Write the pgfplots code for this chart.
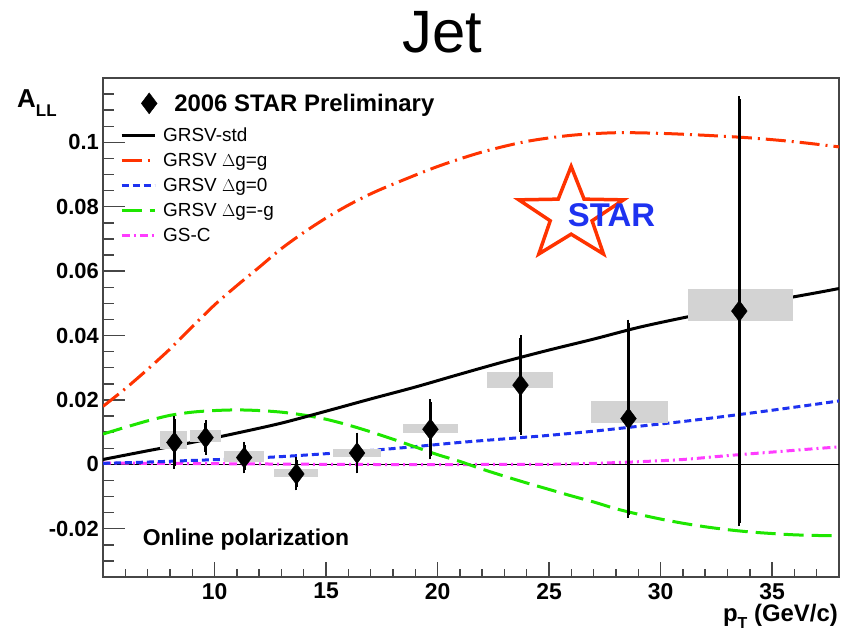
\documentclass[border=0pt]{standalone}
\usepackage{fontspec}
\setmainfont{Liberation Sans}
\usepackage{pgfplots}
\usepackage{pgfplotstable}
\pgfplotsset{compat=1.18}
\usetikzlibrary{shapes.geometric}
\definecolor{rootred}{RGB}{255,51,0}
\definecolor{rootblue}{RGB}{30,50,240}
\definecolor{rootgreen}{RGB}{30,230,0}
\definecolor{rootmag}{RGB}{255,60,255}
\definecolor{sysgray}{RGB}{211,211,211}
\definecolor{framec}{RGB}{70,70,70}

\pgfplotstableread{
x y
5 0.0015
7 0.0042
9 0.0068
11 0.0097
13 0.0128
15 0.0165
17 0.0203
19 0.0240
21 0.0280
23 0.0319
25 0.0355
27 0.0389
29 0.0425
31 0.0455
33 0.0482
35 0.0508
37 0.0533
38 0.0546
}\stdtab

\pgfplotstableread{
x y
5 0.0180
6 0.0235
7 0.0295
8 0.0358
9 0.0427
10 0.0495
11 0.0555
12 0.0612
13 0.0670
14 0.0720
15 0.0765
16 0.0805
17 0.0840
18 0.0870
20 0.0925
22 0.0970
24 0.1003
26 0.1022
28 0.1030
30 0.1028
32 0.1022
34 0.1014
36 0.1002
38 0.0986
}\gtab

\pgfplotstableread{
x y
5 0.0003
7 0.0007
9 0.0012
11 0.0017
13 0.0024
15 0.0033
17 0.0043
19 0.0055
21 0.0068
23 0.0079
25 0.0090
27 0.0103
29 0.0118
31 0.0133
33 0.0150
35 0.0168
37 0.0187
38 0.0197
}\zerotab

\pgfplotstableread{
x y
5 0.0094
6 0.0115
7 0.0135
8 0.0152
9 0.0162
10 0.0167
11 0.0169
12 0.0167
13 0.0162
14 0.0153
15 0.0140
16 0.0122
17 0.0101
18 0.0078
19 0.0054
20 0.0030
21 0.0009
22 -0.0015
23 -0.0037
24 -0.0058
25 -0.0078
26 -0.0098
27 -0.0117
28 -0.0138
29 -0.0155
30 -0.0170
31 -0.0183
32 -0.0194
33 -0.0203
34 -0.0210
35 -0.0215
36 -0.0219
37 -0.0221
38 -0.0222
}\mgtab

\pgfplotstableread{
x y
5 0.0004
10 0.0002
15 0.0000
20 -0.0001
23 0.0000
25 0.0000
27 0.0003
29 0.0008
31 0.0015
33 0.0027
35 0.0038
37 0.0049
38 0.0054
}\gsctab

\pgfplotstableread{
x y err
8.20 0.0068 0.0072
9.60 0.0083 0.0044
11.33 0.0021 0.0040
13.67 -0.0030 0.0042
16.39 0.0035 0.0054
19.68 0.0109 0.0084
23.72 0.0246 0.0146
28.56 0.0142 0.0298
33.53 0.0476 0.0659
}\datatab

\begin{document}
\begin{tikzpicture}[x=1bp,y=1bp]
\useasboundingbox (0,0) rectangle (852,634);
\node[anchor=base, inner sep=0pt, font=\fontsize{60}{60}\selectfont] at (442,581) {Jet};
\node[anchor=base west, inner sep=0pt, font=\bfseries\fontsize{26}{26}\selectfont] at (17,526) {A\raisebox{-9bp}{\fontsize{17}{17}\selectfont LL}};
\node[anchor=base east, inner sep=0pt, font=\bfseries\fontsize{24}{24}\selectfont] at (838,12) {p\raisebox{-7bp}{\fontsize{16}{16}\selectfont T} (GeV/c)};

\begin{axis}[
  at={(103bp,57bp)}, anchor=south west,
  scale only axis, width=736bp, height=499bp,
  xmin=5, xmax=38, ymin=-0.035, ymax=0.12,
  axis line style={framec, line width=1.8bp},
  tick pos=left, tick align=inside,
  major tick length=22bp, minor tick length=11bp,
  tick style={framec, line width=1.4bp},
  xtick={10,15,20,25,30,35},
  xticklabels={10,15,20,25,30,35},
  minor xtick={6,...,37},
  xtick style={draw=none},
  ytick={-0.02,0,0.02,0.04,0.06,0.08,0.1},
  yticklabels={-0.02,0,0.02,0.04,0.06,0.08,0.1},
  minor ytick={-0.03,-0.025,-0.015,-0.01,-0.005,0.005,0.01,0.015,0.025,0.03,0.035,0.045,0.05,0.055,0.065,0.07,0.075,0.085,0.09,0.095,0.105,0.11,0.115},
  xticklabel style={font=\bfseries\fontsize{23}{23}\selectfont, inner sep=0pt, yshift=-6bp},
  yticklabel style={font=\bfseries\fontsize{22}{22}\selectfont, inner sep=0pt, xshift=-4bp},
  legend style={at={(0,1)}, anchor=north west, xshift=17bp, yshift=-45.8bp,
    draw=none, fill=none, inner sep=0pt, column sep=7bp, row sep=0pt,
    nodes={inner sep=0pt, text height=18bp, text depth=7bp}, cells={anchor=base west},
    font=\fontsize{19}{19}\selectfont},
  legend image code/.code={\draw[#1] (0bp,6.5bp) -- (33bp,6.5bp);},
  clip=true,
]
\addlegendimage{black, line width=3bp}
\addlegendentry{GRSV-std}
\addlegendimage{rootred, line width=3bp, dash pattern=on 20bp off 6bp on 2bp off 6bp}
\addlegendentry{GRSV $\Delta$g=g}
\addlegendimage{rootblue, line width=3bp, dash pattern=on 7bp off 4bp}
\addlegendentry{GRSV $\Delta$g=0}
\addlegendimage{rootgreen, line width=3bp, dash pattern=on 20bp off 8bp}
\addlegendentry{GRSV $\Delta$g=-g}
\addlegendimage{rootmag, line width=3bp, dash pattern=on 8bp off 4bp on 2bp off 4bp}
\addlegendentry{GS-C}

% zero line
\addplot[forget plot, black, line width=1.2bp] coordinates {(5,0) (38,0)};

% theory curves
\addplot[forget plot, rootmag, line width=3bp, dash pattern=on 8bp off 4bp on 2bp off 4bp, smooth] table[x=x,y=y] {\gsctab};
\addplot[forget plot, rootblue, line width=3bp, dash pattern=on 7bp off 4bp, smooth] table[x=x,y=y] {\zerotab};
\addplot[forget plot, rootgreen, line width=3bp, dash pattern=on 20bp off 8bp, smooth] table[x=x,y=y] {\mgtab};
\addplot[forget plot, rootred, line width=3bp, dash pattern=on 20bp off 6bp on 2bp off 6bp, smooth] table[x=x,y=y] {\gtab};
\addplot[forget plot, black, line width=3bp, smooth] table[x=x,y=y] {\stdtab};

% systematic boxes
\addplot[forget plot, fill=sysgray, draw=none] coordinates {(7.55,0.0047) (8.75,0.0047) (8.75,0.0104) (7.55,0.0104)} -- cycle;
\addplot[forget plot, fill=sysgray, draw=none] coordinates {(8.88,0.0070) (10.29,0.0070) (10.29,0.0107) (8.88,0.0107)} -- cycle;
\addplot[forget plot, fill=sysgray, draw=none] coordinates {(10.43,0.0006) (12.20,0.0006) (12.20,0.0042) (10.43,0.0042)} -- cycle;
\addplot[forget plot, fill=sysgray, draw=none] coordinates {(12.68,-0.0039) (14.63,-0.0039) (14.63,-0.0015) (12.68,-0.0015)} -- cycle;
\addplot[forget plot, fill=sysgray, draw=none] coordinates {(15.30,0.0022) (17.47,0.0022) (17.47,0.0047) (15.30,0.0047)} -- cycle;
\addplot[forget plot, fill=sysgray, draw=none] coordinates {(18.44,0.0096) (20.91,0.0096) (20.91,0.0125) (18.44,0.0125)} -- cycle;
\addplot[forget plot, fill=sysgray, draw=none] coordinates {(22.23,0.0236) (25.17,0.0236) (25.17,0.0288) (22.23,0.0288)} -- cycle;
\addplot[forget plot, fill=sysgray, draw=none] coordinates {(26.87,0.0127) (30.34,0.0127) (30.34,0.0197) (26.87,0.0197)} -- cycle;
\addplot[forget plot, fill=sysgray, draw=none] coordinates {(31.23,0.0445) (35.92,0.0445) (35.92,0.0546) (31.23,0.0546)} -- cycle;

% data
\addplot[forget plot, black, only marks, mark=diamond*, mark size=10.5bp,
  error bars/.cd, y dir=both, y explicit,
  error bar style={line width=2.8bp, black},
  error mark options={line width=2bp, mark size=3bp, black}]
  table[x=x, y=y, y error=err] {\datatab};

\node[anchor=base west, inner sep=0pt, font=\bfseries\fontsize{23}{23}\selectfont] at (axis cs:6.78,-0.0251) {Online polarization};

% STAR logo
\node[star, star points=5, star point ratio=2.5, draw=rootred, line width=3.5bp, minimum size=110bp, inner sep=0pt, yscale=0.88, transform shape] at (axis cs:25.99,0.0775) {};
\node[text=rootblue, inner sep=0pt, font=\bfseries\fontsize{33}{33}\selectfont] at (axis cs:27.8,0.0774) {STAR};
\end{axis}

\begin{axis}[
  at={(103bp,57bp)}, anchor=south west,
  scale only axis, width=736bp, height=499bp,
  xmin=5, xmax=38, ymin=-0.035, ymax=0.12,
  axis line style={draw=none},
  tick pos=left, tick align=inside,
  major tick length=15bp, minor tick length=7.5bp,
  tick style={framec, line width=1.4bp},
  xtick={10,15,20,25,30,35}, xticklabels={},
  minor xtick={6,...,37},
  ytick=\empty,
  legend style={at={(0,1)}, anchor=north west, xshift=17bp, yshift=-14.5bp,
    draw=none, fill=none, inner sep=0pt, column sep=17bp,
    nodes={inner sep=0pt, text height=17bp, text depth=0bp}, cells={anchor=base west},
    font=\bfseries\fontsize{24}{24}\selectfont},
  legend image code/.code={\path[draw=none] (0bp,0bp) -- (33bp,0bp);
    \fill[black] (29bp,19.1bp) -- (36.9bp,8.6bp) -- (29bp,-1.9bp) -- (21.1bp,8.6bp) -- cycle;},
]
\addlegendimage{black}
\addlegendentry{2006 STAR Preliminary}
\addplot[forget plot, draw=none] coordinates {(5,0)};
\end{axis}
\end{tikzpicture}
\end{document}
